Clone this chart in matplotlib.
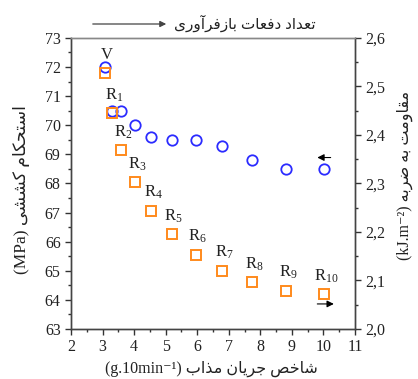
import matplotlib
matplotlib.use("Agg")
import matplotlib.pyplot as plt
from matplotlib.ticker import MultipleLocator, FuncFormatter

# داده‌ها
mfi = [3.07, 3.29, 3.58, 4.03, 4.55, 5.19, 5.95, 6.80, 7.75, 8.83, 10.02]
tensile = [72.0, 70.5, 70.5, 70.0, 69.6, 69.5, 69.5, 69.3, 68.8, 68.5, 68.5]
impact = [2.527, 2.445, 2.369, 2.302, 2.244, 2.195, 2.153, 2.120, 2.096, 2.079, 2.072]
point_labels = ['V', 'R$_1$', 'R$_2$', 'R$_3$', 'R$_4$', 'R$_5$', 'R$_6$',
                'R$_7$', 'R$_8$', 'R$_9$', 'R$_{10}$']

xlabel_fa = 'شاخص جریان مذاب'
ylabel_fa = 'استحکام کششی'
y2label_fa = 'مقاومت به ضربه'
top_fa = 'تعداد دفعات بازفرآوری'

# شکل‌دهی ساده حروف فارسی (matplotlib اتصال حروف را انجام نمی‌دهد)
FORMS = {
    'ا': (0xFE8D, 0xFE8E, None, None), 'آ': (0xFE81, 0xFE82, None, None),
    'ب': (0xFE8F, 0xFE90, 0xFE91, 0xFE92), 'ت': (0xFE95, 0xFE96, 0xFE97, 0xFE98),
    'ج': (0xFE9D, 0xFE9E, 0xFE9F, 0xFEA0), 'ح': (0xFEA1, 0xFEA2, 0xFEA3, 0xFEA4),
    'خ': (0xFEA5, 0xFEA6, 0xFEA7, 0xFEA8), 'د': (0xFEA9, 0xFEAA, None, None),
    'ذ': (0xFEAB, 0xFEAC, None, None), 'ر': (0xFEAD, 0xFEAE, None, None),
    'ز': (0xFEAF, 0xFEB0, None, None), 'س': (0xFEB1, 0xFEB2, 0xFEB3, 0xFEB4),
    'ش': (0xFEB5, 0xFEB6, 0xFEB7, 0xFEB8), 'ص': (0xFEB9, 0xFEBA, 0xFEBB, 0xFEBC),
    'ض': (0xFEBD, 0xFEBE, 0xFEBF, 0xFEC0), 'ع': (0xFEC9, 0xFECA, 0xFECB, 0xFECC),
    'ف': (0xFED1, 0xFED2, 0xFED3, 0xFED4), 'ق': (0xFED5, 0xFED6, 0xFED7, 0xFED8),
    'ک': (0xFB8E, 0xFB8F, 0xFB90, 0xFB91), 'گ': (0xFB92, 0xFB93, 0xFB94, 0xFB95),
    'ل': (0xFEDD, 0xFEDE, 0xFEDF, 0xFEE0), 'م': (0xFEE1, 0xFEE2, 0xFEE3, 0xFEE4),
    'ن': (0xFEE5, 0xFEE6, 0xFEE7, 0xFEE8), 'ه': (0xFEE9, 0xFEEA, 0xFEEB, 0xFEEC),
    'و': (0xFEED, 0xFEEE, None, None), 'ی': (0xFEEF, 0xFEF0, 0xFEF3, 0xFEF4),
}


def fa(text):
    out = []
    for i, ch in enumerate(text):
        if ch not in FORMS:
            out.append(ch)
            continue
        prev = text[i - 1] if i > 0 else ''
        nxt = text[i + 1] if i + 1 < len(text) else ''
        join_prev = prev in FORMS and FORMS[prev][2] is not None
        join_next = FORMS[ch][2] is not None and nxt in FORMS
        iso, fin, ini, med = FORMS[ch]
        if join_prev and join_next:
            code = med
        elif join_prev:
            code = fin
        elif join_next:
            code = ini
        else:
            code = iso
        out.append(chr(code))
    return ''.join(reversed(out))


plt.rcParams['font.family'] = ['Liberation Serif', 'DejaVu Sans']
plt.rcParams['mathtext.fontset'] = 'custom'
plt.rcParams['mathtext.rm'] = 'Liberation Serif'
plt.rcParams['mathtext.default'] = 'rm'

fig = plt.figure(figsize=(4.18, 3.79), dpi=100)
ax = fig.add_axes([0.170, 0.132, 0.679, 0.768])
ax2 = ax.twinx()

ax.plot(mfi, tensile, 'o', ms=7.5, mfc='none', mec='#2b2bff', mew=1.3, zorder=3)
ax2.plot(mfi, impact, 's', ms=6.5, mfc='none', mec='#ff8a1c', mew=1.4, zorder=3)

for x, y, lab in zip(mfi, impact, point_labels):
    ax2.annotate(lab, xy=(x, y), xytext=(2, 18), textcoords='offset pixels',
                 ha='center', va='center', fontsize=12, color='#222222')

# پیکان‌های راهنمای محور
ax.annotate('', xy=(9.72, 68.89), xytext=(10.32, 68.89),
            arrowprops=dict(arrowstyle='-|>', color='black', lw=0.8, mutation_scale=10))
ax.annotate('', xy=(10.42, 63.86), xytext=(9.72, 63.86),
            arrowprops=dict(arrowstyle='-|>', color='black', lw=0.8, mutation_scale=10))

ax.set_xlim(2, 11)
ax.set_ylim(63, 73)
ax2.set_ylim(2.0, 2.6)
ax.xaxis.set_major_locator(MultipleLocator(1))
ax.xaxis.set_minor_locator(MultipleLocator(0.5))
ax.yaxis.set_major_locator(MultipleLocator(1))
ax.yaxis.set_minor_locator(MultipleLocator(0.5))
ax2.yaxis.set_major_locator(MultipleLocator(0.1))
ax2.yaxis.set_minor_locator(MultipleLocator(0.05))
ax2.yaxis.set_major_formatter(FuncFormatter(lambda v, p: f"{v:.1f}".replace('.', ',')))

for a in (ax, ax2):
    a.tick_params(which='major', direction='out', length=4, width=1, labelsize=11.5,
                  colors='#333333', labelcolor='#222222')
    a.tick_params(which='minor', direction='out', length=2, width=1, colors='#333333')
    for s in a.spines.values():
        s.set_color('#444444')
        s.set_linewidth(1)
ax.spines['top'].set_color('#888888')
ax2.spines['top'].set_color('#888888')

fig.text(211 / 418, 1 - 369 / 379, '(g.10min⁻¹) ' + fa(xlabel_fa),
         ha='center', va='center', fontsize=11.5, color='#222222')
fig.text(22 / 418, 1 - 190 / 379, '(MPa) ' + fa(ylabel_fa), rotation=90,
         ha='center', va='center', fontsize=12.5, color='#222222')
fig.text(405 / 418, 1 - 175 / 379, '(kJ.m⁻²) ' + fa(y2label_fa), rotation=90,
         ha='center', va='center', fontsize=11.5, color='#222222')
fig.text(245 / 418, 1 - 23 / 379, fa(top_fa), ha='center', va='center',
         fontsize=11, color='#222222')
fig.add_artist(matplotlib.patches.FancyArrowPatch(
    (90 / 418, 1 - 24 / 379), (169 / 418, 1 - 24 / 379), transform=fig.transFigure,
    arrowstyle='-|>', mutation_scale=9, color='#444444', lw=0.9))

fig.savefig('out.png', dpi=100)
